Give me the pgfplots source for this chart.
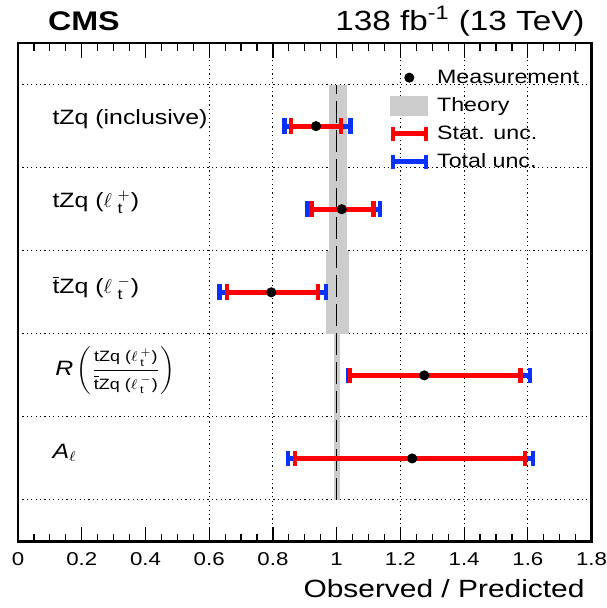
\documentclass[border=0pt]{standalone}
\usepackage{amsmath}
\usepackage{pgfplots}
\pgfplotsset{compat=1.18}
\usepackage{pgfplotstable}
\usepackage{fontspec}
\setmainfont{Liberation Sans}[FakeStretch=1.2]
\definecolor{thgray}{RGB}{204,204,204}
\definecolor{statred}{RGB}{255,0,0}
\definecolor{totblue}{RGB}{10,50,255}

% row  x(meas)  stat-  stat+  tot-  tot+
\pgfplotstableread{
y  x      sm     sp     tm     tp
5  0.935  0.078  0.079  0.099  0.108
4  1.016  0.095  0.099  0.110  0.120
3  0.795  0.139  0.147  0.163  0.171
2  1.275  0.233  0.302  0.239  0.332
1  1.237  0.368  0.354  0.389  0.380
}\meas

\begin{document}
\begin{tikzpicture}
\useasboundingbox (-9bp,-33.2bp) rectangle (294bp,270.5bp);
\begin{axis}[
  scale only axis, width=286.5bp, height=249bp,
  xmin=0, xmax=1.8, ymin=0, ymax=6,
  clip mode=individual,
  xtick={0,0.2,0.4,0.6,0.8,1,1.2,1.4,1.6,1.8},
  xticklabels={0,0.2,0.4,0.6,0.8,1,1.2,1.4,1.6,1.8},
  minor x tick num=3, ytick=\empty,
  tick align=inside, xtick pos=both, xticklabel pos=lower,
  major tick length=7.5bp, minor tick length=4bp,
  every tick/.style={black, line width=0.6bp},
  axis line style={line width=1.2bp},
  xticklabel style={font=\fontsize{9.3}{10}\selectfont, anchor=base, yshift=-12bp},
  extra x ticks={0.6,0.8,1.2,1.4,1.6}, extra x tick labels={},
  extra x tick style={grid=major, major tick length=0pt},
  extra y ticks={0.5,1.5,2.5,3.5,4.5,5.5}, extra y tick labels={},
  extra y tick style={grid=major, major tick length=0pt},
  major grid style={black, line width=0.5bp, dash pattern=on 0.6bp off 1.6bp},
  xlabel={Observed / Predicted},
  xlabel style={font=\fontsize{12.5}{13}\selectfont, at={(axis description cs:1,0)}, anchor=base east, yshift=-27.8bp},
  legend style={at={(axis cs:1.162,5.71)}, anchor=north west, draw=none, fill=none,
    inner sep=0pt, outer sep=0pt, row sep=3.5bp, font=\fontsize{9.7}{10}\selectfont,
    nodes={inner sep=0pt, text height=8bp, text depth=2.5bp},
    /tikz/every odd column/.append style={column sep=3.4bp}},
  legend cell align=left,
]
% theory bands and prediction line
\addplot[fill=thgray, draw=none, forget plot] coordinates {(0.975,3.5) (1.033,3.5) (1.033,5.5) (0.975,5.5)} -- cycle;
\addplot[fill=thgray, draw=none, forget plot] coordinates {(0.965,2.5) (1.040,2.5) (1.040,3.5) (0.965,3.5)} -- cycle;
\addplot[fill=thgray, draw=none, forget plot] coordinates {(0.991,0.5) (1.012,0.5) (1.012,2.5) (0.991,2.5)} -- cycle;
\addplot[black, line width=0.6bp, dash pattern=on 11bp off 3.5bp, forget plot] coordinates {(1,0.5) (1,5.5)};
% total and stat uncertainties
\addplot[only marks, mark=none, forget plot, error bars/.cd, x dir=both, x explicit, error mark=|,
  error bar style={totblue, line width=2.5bp},
  error mark options={totblue, line width=2.2bp, mark size=3.9bp}]
  table[x=x, y=y, x error plus=tp, x error minus=tm] {\meas};
\addplot[only marks, mark=none, forget plot, error bars/.cd, x dir=both, x explicit, error mark=|,
  error bar style={statred, line width=2.5bp},
  error mark options={statred, line width=2.2bp, mark size=3.9bp}]
  table[x=x, y=y, x error plus=sp, x error minus=sm] {\meas};
\addplot[only marks, mark=*, mark size=2.3bp, black, forget plot] table[x=x, y=y] {\meas};
% legend
\addlegendimage{legend image code/.code={\fill[white, opacity=0] (0,-1bp) rectangle (18.5bp,1bp); \fill[black] (9.25bp,0) circle (2.3bp);}}
\addlegendentry{Measurement}
\addlegendimage{legend image code/.code={\fill[thgray] (0,-4.75bp) rectangle (18.5bp,4.75bp);}}
\addlegendentry{Theory}
\addlegendimage{legend image code/.code={\draw[statred, line width=2.5bp] (0,0) -- (18.5bp,0);
  \draw[statred, line width=2.2bp] (1bp,-3.5bp) -- (1bp,3.5bp) (17.5bp,-3.5bp) -- (17.5bp,3.5bp);}}
\addlegendentry{Stat. unc.}
\addlegendimage{legend image code/.code={\draw[totblue, line width=2.5bp] (0,0) -- (18.5bp,0);
  \draw[totblue, line width=2.2bp] (1bp,-3.5bp) -- (1bp,3.5bp) (17.5bp,-3.5bp) -- (17.5bp,3.5bp);}}
\addlegendentry{Total unc.}
% row labels
\tikzset{rowlab/.style={anchor=base west, inner sep=0pt, font=\fontsize{10.4}{11}\selectfont}}
\node[rowlab] at (axis cs:0.107,5.02) {tZq (\text{inclusive})};
\node[rowlab] at (axis cs:0.107,4.02) {tZq (\({\ell}\;{}^{+}_{\text{t}}\))};
\node[rowlab] at (axis cs:0.107,2.98) {\(\overline{\mbox{t}}\)Zq (\({\ell}\;{}^{-}_{\text{t}}\))};
\node[rowlab] at (axis cs:0.116,2.0) {\textit{R}\,\(\displaystyle\left(\frac{\mbox{\fontsize{7.5}{8}\selectfont tZq (\(\ell\,{}^{+}_{\text{t}}\))}}{\mbox{\fontsize{7.5}{8}\selectfont \(\overline{\mbox{t}}\)Zq (\(\ell\,{}^{-}_{\text{t}}\))}}\right)\)};
\node[rowlab] at (axis cs:0.107,1.0) {\textit{A}\(_{\ell}\)};
% header
\node[anchor=base west, yshift=6.5bp, font=\bfseries\fontsize{13.5}{14}\selectfont] at (rel axis cs:0.04,1) {CMS};
\node[anchor=base east, yshift=6.5bp, font=\fontsize{13.9}{14}\selectfont] at (rel axis cs:1,1) {138 fb\textsuperscript{-1} (13 TeV)};
\end{axis}
\end{tikzpicture}
\end{document}
